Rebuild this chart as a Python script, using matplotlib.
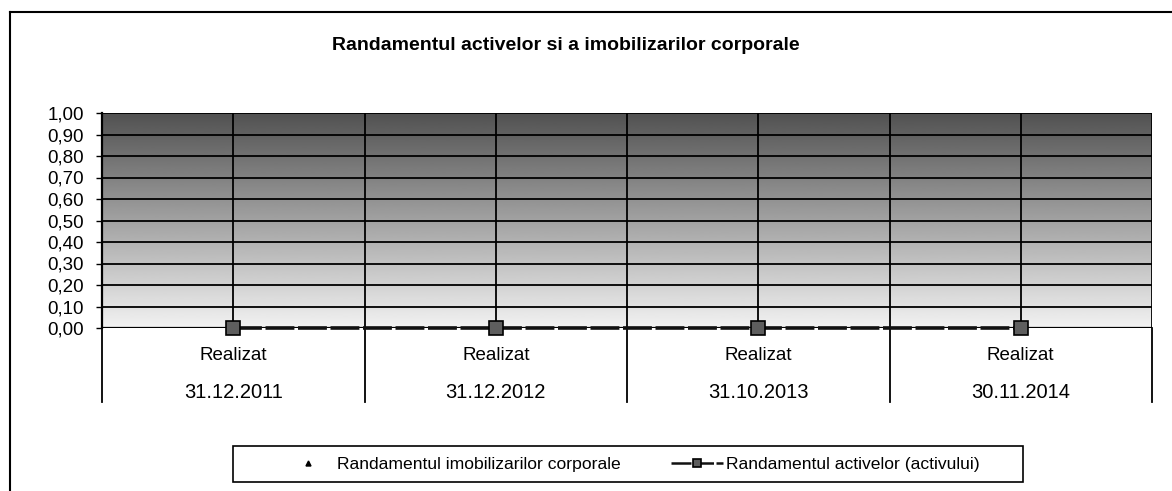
import matplotlib
matplotlib.use("Agg")
import matplotlib.pyplot as plt
import numpy as np
from matplotlib.lines import Line2D
from matplotlib.patches import Rectangle
from matplotlib.transforms import blended_transform_factory

plt.rcParams['font.family'] = ['Liberation Sans', 'DejaVu Sans']

title = "Randamentul activelor si a imobilizarilor corporale"
level1 = ["Realizat", "Realizat", "Realizat", "Realizat"]
dates = ["31.12.2011", "31.12.2012", "31.10.2013", "30.11.2014"]
imobilizari = [0.0, 0.0, 0.0, 0.0]
active = [0.0, 0.0, 0.0, 0.0]
yticks = [0.0, 0.1, 0.2, 0.3, 0.4, 0.5, 0.6, 0.7, 0.8, 0.9, 1.0]
name_imob = "Randamentul imobilizarilor corporale"
name_act = "Randamentul activelor (activului)"

W, H = 1172, 491
fig = plt.figure(figsize=(W / 100, H / 100), dpi=100)
ax = fig.add_axes([102 / W, 1 - 328 / H, (1152 - 102) / W, (328 - 113) / H])

n = len(dates)
x = np.arange(n)
ax.set_xlim(-0.5, n - 0.5)
ax.set_ylim(0, 1.0)

# gradient background
grad = np.linspace(0.95, 0.32, 256).reshape(-1, 1)
ax.imshow(grad, extent=(-0.5, n - 0.5, 0, 1.0), aspect='auto', origin='lower',
          cmap='gray', vmin=0, vmax=1, zorder=0, interpolation='bilinear')

# gridlines
for yv in yticks[1:]:
    ax.axhline(yv, color='black', lw=1.3, zorder=1)
for xv in x:
    ax.axvline(xv, color='black', lw=1.3, zorder=1)
for xv in np.arange(n + 1) - 0.5:
    ax.axvline(xv, color='black', lw=1.3, zorder=1)

# series
ax.plot(x, imobilizari, linestyle='none', marker='^', markersize=6,
        color='black', label=name_imob, zorder=3)
ax.plot(x, active, linestyle='--', dashes=(8, 1.0), lw=2.6, color='#111111',
        marker='s', markersize=10, markerfacecolor='#5e5e5e',
        markeredgecolor='black', markeredgewidth=1.2, label=name_act, zorder=4,
        clip_on=False)

ax.axhline(0, color='black', lw=1.6, zorder=2)

# y axis
ax.set_yticks(yticks)
ax.set_yticklabels([f"{v:.2f}".replace('.', ',') for v in yticks], fontsize=13.5)
ax.tick_params(axis='y', length=4, width=1, direction='out', pad=9)
for s in ['top', 'right', 'bottom']:
    ax.spines[s].set_visible(False)
ax.spines['left'].set_linewidth(1.6)

# multi-level x labels
ax.set_xticks([])
trans = blended_transform_factory(ax.transData, ax.transAxes)
for i in range(n):
    ax.text(x[i], -27 / 215, level1[i], transform=trans, ha='center', va='center', fontsize=13.5)
    ax.text(x[i], -64 / 215, dates[i], transform=trans, ha='center', va='center', fontsize=14.5)
for xv in np.arange(n + 1) - 0.5:
    ax.add_line(Line2D([xv, xv], [0, -74 / 215], transform=trans, color='black',
                       lw=1.3, clip_on=False))

fig.text(566 / W, 1 - 46 / H, title, ha='center', va='center', fontsize=14, fontweight='bold')

# legend with a separate frame
fig.add_artist(Rectangle((233 / W, 1 - 482 / H), (1023 - 233) / W, (482 - 446) / H,
                         transform=fig.transFigure, fill=False, edgecolor='black', lw=1.2))
leg = fig.legend(loc='center', bbox_to_anchor=(631 / W, 1 - 464 / H), ncol=2,
                 fontsize=12.6, frameon=False, columnspacing=2.85, handlelength=3.0,
                 handletextpad=0.15, markerscale=0.6)
for line in leg.get_lines():
    line.set_linewidth(1.8)

# outer frame
fig.add_artist(Line2D([10 / W, 10 / W], [0, 1 - 12 / H], transform=fig.transFigure, color='black', lw=1.5))
fig.add_artist(Line2D([10 / W, 1], [1 - 12 / H, 1 - 12 / H], transform=fig.transFigure, color='black', lw=1.5))

fig.savefig("out.png", dpi=100, facecolor='white')
